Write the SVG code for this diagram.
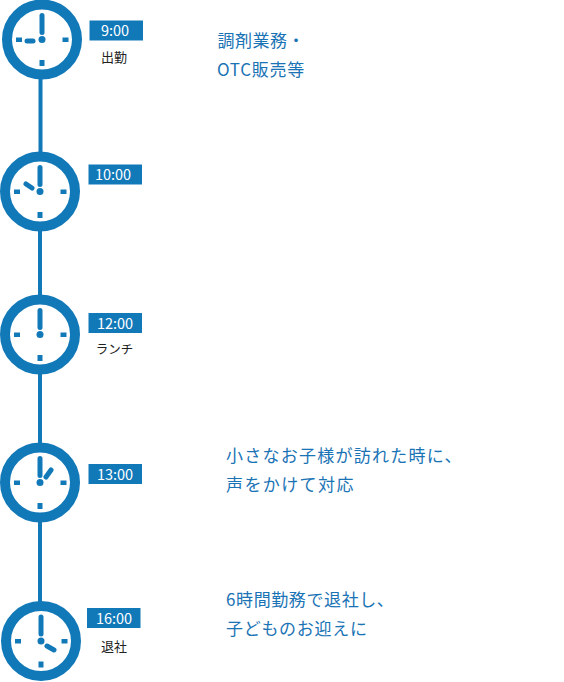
<svg xmlns="http://www.w3.org/2000/svg" width="564" height="682" viewBox="0 0 564 682">
<style>
text{font-family:"Noto Sans CJK JP","Noto Sans",sans-serif}
.ring{fill:#fff;stroke:#1279b9;stroke-width:10}
.tick{fill:#1279b9}
.hand{stroke:#1279b9;stroke-width:5;stroke-linecap:round;fill:none}
.tag{fill:#1279b9}
.time{fill:#fff;font-size:14.500px;text-anchor:middle}
.sub{fill:#222;font-size:13px;text-anchor:middle}
.body{fill:#1a73b5;font-size:17px}
.line{stroke:#1279b9;stroke-width:4;fill:none}
</style>
<defs>
<g id="face">
<circle class="ring" r="35"/>
<rect class="tick" x="-26" y="-2" width="6" height="4.500"/>
<rect class="tick" x="20.500" y="-2" width="6" height="4.500"/>
<rect class="tick" x="-2.500" y="20.500" width="5" height="6"/>
<circle class="tick" r="3.500"/>
<path class="hand" d="M0-7V-24"/>
</g>
</defs>
<g id="connectors">
<path class="line" d="M40.500 78V153M40 230V296M40 374V444M40 522V603"/>
</g>
<g id="node-900">
<use href="#face" x="42" y="39.500"/>
<path class="hand" d="M27 41H33"/>
<rect class="tag" x="89.500" y="20.500" width="53.500" height="20"/>
<text class="time" x="115" y="36">9:00</text>
<text class="sub" x="114" y="62">出勤</text>
</g>
<g id="node-1000">
<use href="#face" x="40" y="191.500"/>
<path class="hand" d="M26 184L32 188"/>
<rect class="tag" x="88.500" y="164.500" width="53.500" height="20"/>
<text class="time" x="113" y="180">10:00</text>
</g>
<g id="node-1200">
<use href="#face" x="40" y="334.500"/>
<rect class="tag" x="88.500" y="313" width="53.500" height="20"/>
<text class="time" x="115" y="328.500">12:00</text>
<text class="sub" x="114.500" y="353.500" font-size="12.500" style="font-size:12.500px">ランチ</text>
</g>
<g id="node-1300">
<use href="#face" x="40" y="482.500"/>
<path class="hand" d="M46 477L51 470"/>
<rect class="tag" x="88.500" y="464" width="53.500" height="20"/>
<text class="time" x="115" y="479.500">13:00</text>
</g>
<g id="node-1600">
<use href="#face" x="41" y="641"/>
<path class="hand" d="M47 646L54 650"/>
<rect class="tag" x="87" y="608" width="53.500" height="20"/>
<text class="time" x="114" y="623.500">16:00</text>
<text class="sub" x="114" y="651">退社</text>
</g>
<g id="notes">
<text class="body" x="217.500" y="47" letter-spacing=".5">調剤業務・</text>
<text class="body" x="217" y="76" letter-spacing=".7">OTC販売等</text>
<text class="body" x="226" y="461.500" letter-spacing="1.250">小さなお子様が訪れた時に、</text>
<text class="body" x="226" y="490.500" letter-spacing="1.400">声をかけて対応</text>
<text class="body" x="226" y="606" letter-spacing=".6">6時間勤務で退社し、</text>
<text class="body" x="226" y="635" letter-spacing=".7">子どものお迎えに</text>
</g>
</svg>
